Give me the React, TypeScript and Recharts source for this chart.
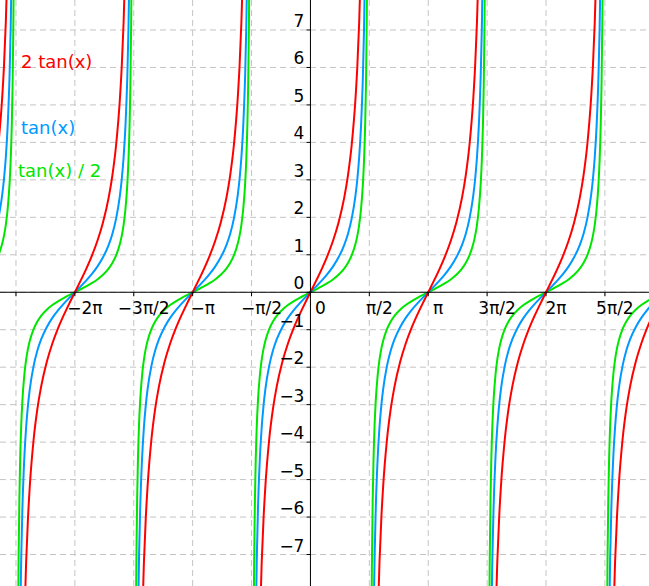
import React from 'react';
import { LineChart, Line, XAxis, YAxis, ReferenceLine, ReferenceDot } from 'recharts';

const xDomain: [number, number] = [-8.28, 9.03];
const yDomain: [number, number] = [-7.84, 7.8];

// centres of each visible branch (multiples of pi) and half a period
const branchCenters = [-9.4248, -6.2832, -3.1416, 0, 3.1416, 6.2832, 9.4248];
const halfPeriod = 1.5708;

// offsets (radians) from a branch centre and the values read for each curve
const offsets = [0, 0.15, 0.3, 0.45, 0.6, 0.75, 0.9, 1.0, 1.1, 1.2, 1.25, 1.3, 1.35, 1.4, 1.43, 1.46, 1.48, 1.5, 1.52, 1.54, 1.55];
const twoTanValues = [0, 0.302, 0.619, 0.966, 1.368, 1.863, 2.52, 3.115, 3.93, 5.144, 6.019, 7.204, 8.91, 11.6, 14.11, 17.98, 21.96, 28.2, 39.34, 64.92, 96.16];
const tanValues = [0, 0.151, 0.309, 0.483, 0.684, 0.932, 1.26, 1.557, 1.965, 2.572, 3.01, 3.602, 4.455, 5.798, 7.056, 8.989, 10.98, 14.1, 19.67, 32.46, 48.08];
const halfTanValues = [0, 0.076, 0.155, 0.242, 0.342, 0.466, 0.63, 0.779, 0.982, 1.286, 1.505, 1.801, 2.228, 2.899, 3.528, 4.494, 5.49, 7.05, 9.835, 16.23, 24.04];

const xTicks = [-7.854, -6.2832, -4.7124, -3.1416, -1.5708, 0, 1.5708, 3.1416, 4.7124, 6.2832, 7.854];
const xTickLabels = ['', '−2π', '−3π/2', '−π', '−π/2', '0', 'π/2', 'π', '3π/2', '2π', '5π/2'];
const yTicks = [-7, -6, -5, -4, -3, -2, -1, 0, 1, 2, 3, 4, 5, 6, 7];
const yTickLabels = ['−7', '−6', '−5', '−4', '−3', '−2', '−1', '0', '1', '2', '3', '4', '5', '6', '7'];

const seriesNames = ['2 tan(x)', 'tan(x)', 'tan(x) / 2'];
const seriesColors = ['#ff0000', '#0099ff', '#00e600'];

const FONT = "'DejaVu Sans', sans-serif";
const FONT_SIZE = 17;
const LEGEND_SIZE = 18;
const GRID = '#c4c4c4';

type Pt = { x: number; y: number | null };

function buildBranches(values: number[]): Pt[] {
  const pts: Pt[] = [];
  for (const c of branchCenters) {
    for (let i = offsets.length - 1; i > 0; i--) pts.push({ x: c - offsets[i], y: -values[i] });
    for (let i = 0; i < offsets.length; i++) pts.push({ x: c + offsets[i], y: values[i] });
    pts.push({ x: c + halfPeriod, y: null });
  }
  return pts;
}

const twoTanData = buildBranches(twoTanValues);
const tanData = buildBranches(tanValues);
const halfTanData = buildBranches(halfTanValues);

const XTickMark = (props: any) => {
  const { cx, cy, label } = props;
  return (
    <g>
      <line x1={cx} y1={cy} x2={cx} y2={cy + 4} stroke="#000" strokeWidth={1} />
      {label ? (
        <text x={cx + 10} y={cy + 22} textAnchor="middle" fontFamily={FONT} fontSize={FONT_SIZE} fill="#000">
          {label}
        </text>
      ) : null}
    </g>
  );
};

const YTickMark = (props: any) => {
  const { cx, cy, label } = props;
  return (
    <g>
      <line x1={cx - 4} y1={cy} x2={cx} y2={cy} stroke="#000" strokeWidth={1} />
      <text x={cx - 6} y={cy - 3} textAnchor="end" fontFamily={FONT} fontSize={FONT_SIZE} fill="#000">
        {label}
      </text>
    </g>
  );
};

export default function App() {
  return (
    <div style={{ position: 'absolute', left: 0, top: 0, width: 649, height: 586, background: '#fff' }}>
      <LineChart width={649} height={586} margin={{ top: 0, right: 0, bottom: 0, left: 0 }}>
        <XAxis
          type="number"
          dataKey="x"
          domain={xDomain}
          ticks={xTicks}
          allowDataOverflow
          height={0}
          tick={false}
          axisLine={false}
          tickLine={false}
        />
        <YAxis
          type="number"
          domain={yDomain}
          ticks={yTicks}
          allowDataOverflow
          width={0}
          tick={false}
          axisLine={false}
          tickLine={false}
        />
        {xTicks.map((t, i) => (
          <ReferenceLine key={'gx' + i} x={t} stroke={GRID} strokeWidth={1} strokeDasharray="6 4" />
        ))}
        {yTicks.map((t, i) => (
          <ReferenceLine key={'gy' + i} y={t} stroke={GRID} strokeWidth={1} strokeDasharray="6 4" />
        ))}
        <Line data={halfTanData} dataKey="y" type="monotone" stroke={seriesColors[2]} strokeWidth={2} dot={false} isAnimationActive={false} connectNulls={false} />
        <Line data={tanData} dataKey="y" type="monotone" stroke={seriesColors[1]} strokeWidth={2} dot={false} isAnimationActive={false} connectNulls={false} />
        <Line data={twoTanData} dataKey="y" type="monotone" stroke={seriesColors[0]} strokeWidth={2} dot={false} isAnimationActive={false} connectNulls={false} />
        <ReferenceLine y={0} stroke="#000" strokeWidth={1} />
        <ReferenceLine x={0} stroke="#000" strokeWidth={1} />
        {xTicks.map((t, i) => (
          <ReferenceDot key={'xt' + i} x={t} y={0} r={1} shape={(p: any) => <XTickMark {...p} label={xTickLabels[i]} />} />
        ))}
        {yTicks.map((t, i) => (
          <ReferenceDot key={'yt' + i} x={0} y={t} r={1} shape={(p: any) => <YTickMark {...p} label={yTickLabels[i]} />} />
        ))}
      </LineChart>
      <svg width={649} height={586} style={{ position: 'absolute', left: 0, top: 0, pointerEvents: 'none' }}>
        <text x={21} y={68} fontFamily={FONT} fontSize={LEGEND_SIZE} fill={seriesColors[0]}>{seriesNames[0]}</text>
        <text x={21} y={134} fontFamily={FONT} fontSize={LEGEND_SIZE} fill={seriesColors[1]}>{seriesNames[1]}</text>
        <text x={18} y={177} fontFamily={FONT} fontSize={LEGEND_SIZE} fill={seriesColors[2]}>{seriesNames[2]}</text>
      </svg>
    </div>
  );
}
